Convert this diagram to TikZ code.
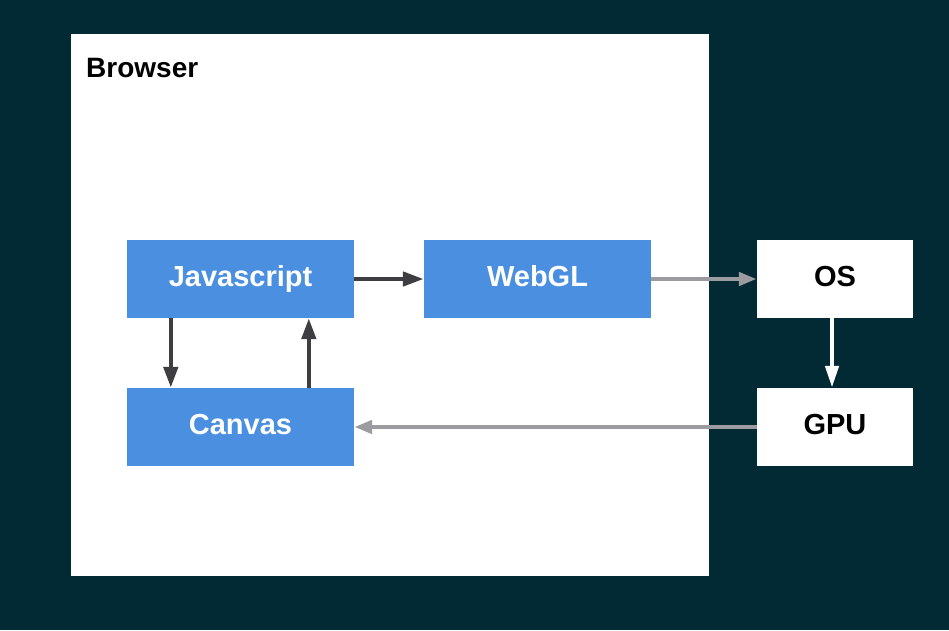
\documentclass[tikz,border=0pt]{standalone}
\usepackage{fontspec}
\setmainfont{Liberation Sans}
\usetikzlibrary{arrows.meta}
\definecolor{bgc}{HTML}{022A35}
\definecolor{boxblue}{HTML}{4A8FE0}
\definecolor{darkarr}{HTML}{3E3D42}
\definecolor{lightarr}{HTML}{9C9BA0}
\begin{document}
\begin{tikzpicture}[x=1pt,y=-1pt,
  lbl/.style={font=\fontsize{29}{32}\selectfont\bfseries,text height=14pt,text depth=0pt},
  bluebox/.style={lbl,fill=boxblue,draw=none,minimum width=227pt,minimum height=78pt,inner sep=0pt,text=white},
  whitebox/.style={lbl,fill=white,draw=none,minimum width=156pt,minimum height=78pt,inner sep=0pt,text=black},
  darkline/.style={line width=4.5pt,draw=darkarr,-{Triangle[length=21pt,width=14pt]}},
  lightline/.style={line width=4.5pt,draw=lightarr,-{Triangle[length=18pt,width=13pt]}},
  whiteline/.style={line width=4.5pt,draw=white,-{Triangle[length=22pt,width=13pt]}}]
\useasboundingbox (0,0) rectangle (949,630);
\fill[bgc] (0,0) rectangle (949,630);
\fill[white] (71,34) rectangle (709,576);
\node[anchor=base west,font=\fontsize{28}{31}\selectfont\bfseries,inner sep=0pt] (browser) at (86,77.5) {Browser};
\node[bluebox] (js) at (240.5,279) {Javascript};
\node[bluebox] (webgl) at (537.5,279) {WebGL};
\node[bluebox] (canvas) at (240.5,427) {Canvas};
\node[whitebox] (os) at (835,279) {OS};
\node[whitebox] (gpu) at (835,427) {GPU};
\draw[darkline] (js.east) -- (webgl.west);
\draw[darkline] (js.south west) ++(44,0) coordinate (a1) -- (a1 |- canvas.north);
\draw[darkline] (canvas.north west) ++(182,0) coordinate (a2) -- (a2 |- js.south);
\draw[lightline] (webgl.east) -- (os.west);
\draw[whiteline] (os.south) ++(-3,0) coordinate (a3) -- (a3 |- gpu.north);
\draw[lightline] (gpu.west) -- (canvas.east);
\end{tikzpicture}
\end{document}
